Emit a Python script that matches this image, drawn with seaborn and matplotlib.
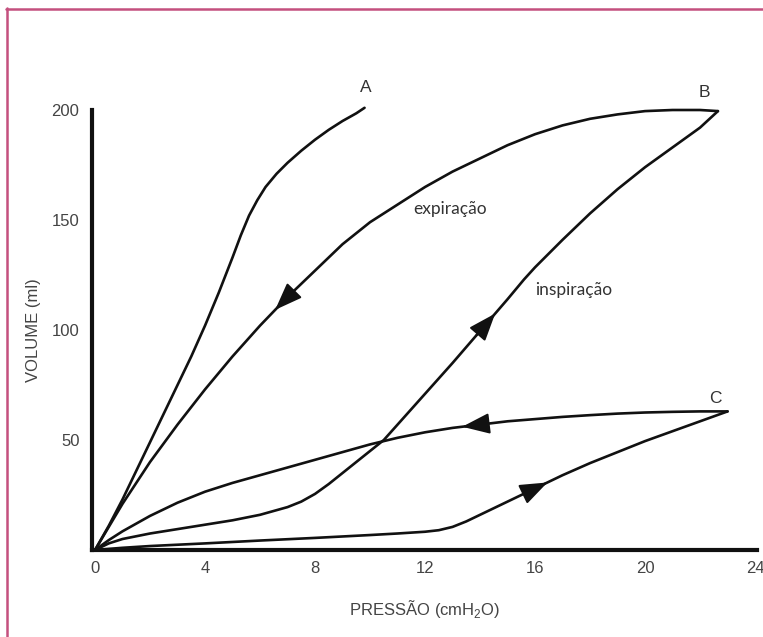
import numpy as np
import pandas as pd
import matplotlib
matplotlib.use("Agg")
import matplotlib.pyplot as plt
from matplotlib.lines import Line2D
import seaborn as sns

# ---------------- data ----------------
a_p = [0, 0.5, 1, 1.5, 2, 2.5, 3, 3.5, 4, 4.5, 5, 5.3, 5.6, 5.9, 6.2, 6.6, 7, 7.5, 8, 8.5, 9, 9.5, 9.8]
a_v = [0, 11, 23, 36, 49, 62, 75, 88, 102, 117, 133, 143, 152, 159, 165, 171, 176, 181.5, 186.5, 191, 195, 198.5, 201]

b_exp_p = [0, 1, 2, 3, 4, 5, 6, 7, 8, 9, 10, 11, 12, 13, 14, 15, 16, 17, 18, 19, 20, 21, 22, 22.65]
b_exp_v = [0, 21, 40, 57, 73, 88, 102, 115, 127, 139, 149, 157, 165, 172, 178, 184, 189, 193, 196, 198, 199.5, 200, 200, 199.5]

b_insp_p = [0, 0.5, 1, 2, 3, 4, 5, 6, 7, 7.5, 8, 8.5, 9, 9.5, 10, 10.5, 11, 12, 13, 14, 15, 15.6, 16, 17, 18, 19, 20, 21, 22, 22.65]
b_insp_v = [0, 3, 5, 7.5, 9.5, 11.5, 13.5, 16, 19.5, 22, 25.5, 30, 35, 40, 45, 50, 57, 71, 85, 99.5, 114, 123, 128.5, 141, 153, 164, 174, 183, 192, 199.5]

c_exp_p = [0, 0.5, 1, 2, 3, 4, 5, 6, 7, 8, 9, 10, 11, 12, 13, 14, 15, 16, 17, 18, 19, 20, 21, 22, 23]
c_exp_v = [0, 4.5, 8.5, 15.5, 21.5, 26.5, 30.5, 34, 37.5, 41, 44.5, 48, 51, 53.5, 55.5, 57, 58.5, 59.5, 60.5, 61.3, 62, 62.5, 62.8, 63, 63]

c_insp_p = [0, 1, 2, 4, 6, 8, 10, 11, 12, 12.5, 13, 13.5, 14, 14.5, 15, 16, 17, 18, 19, 20, 21, 22, 23]
c_insp_v = [0, 1, 1.8, 3, 4.3, 5.5, 6.8, 7.5, 8.3, 9, 10.5, 13, 16, 19, 22, 28, 34, 39.5, 44.5, 49.5, 54, 58.5, 63]

x_ticks = [0, 4, 8, 12, 16, 20, 24]
y_ticks = [50, 100, 150, 200]
y_tick_labels = ["50", "100", "150", "200"]

curve_labels = ["A", "B", "C"]
note_labels = ["expiração", "inspiração"]

# ---------------- style ----------------
sns.set_theme(style="white")
plt.rcParams["font.family"] = ["Liberation Sans", "DejaVu Sans"]
plt.rcParams["mathtext.fontset"] = "custom"
plt.rcParams["mathtext.rm"] = "Liberation Sans"

INK = "#111111"
GRAY = "#444444"

fig = plt.figure(figsize=(7.63, 6.37), dpi=100)
fig.patch.set_facecolor("white")
W, H = 763, 637
ax = fig.add_axes([92 / W, (H - 550) / H, (757 - 92) / W, 440 / H])
ax.set_facecolor("white")

curves = [(a_p, a_v), (b_exp_p, b_exp_v), (b_insp_p, b_insp_v), (c_exp_p, c_exp_v), (c_insp_p, c_insp_v)]
for p, v in curves:
    sns.lineplot(x=p, y=v, sort=False, estimator=None, color=INK, lw=1.9, ax=ax, clip_on=False)

ax.set_xlim(-0.11, 24.07)
ax.set_ylim(0, 200)

# arrowheads placed along curves
def arrow_on(p, v, at, direction):
    p = np.asarray(p, float); v = np.asarray(v, float)
    d = 0.35
    tip_p = at + direction * d
    base_p = at - direction * d
    tip_v = np.interp(tip_p, p, v)
    base_v = np.interp(base_p, p, v)
    ax.annotate("", xy=(tip_p, tip_v), xytext=(base_p, base_v),
                arrowprops=dict(arrowstyle="-|>,head_length=0.85,head_width=0.32",
                                color=INK, lw=1.5, mutation_scale=20, shrinkA=0, shrinkB=0))

arrow_on(b_exp_p, b_exp_v, 6.9, -1)
arrow_on(b_insp_p, b_insp_v, 14.2, +1)
arrow_on(c_exp_p, c_exp_v, 13.7, -1)
arrow_on(c_insp_p, c_insp_v, 16.1, +1)

# spines / ticks
for s in ["top", "right"]:
    ax.spines[s].set_visible(False)
for s in ["left", "bottom"]:
    ax.spines[s].set_visible(True)
    ax.spines[s].set_color(INK)
    ax.spines[s].set_linewidth(3.0)

ax.set_xticks(x_ticks)
ax.set_xticklabels([str(t) for t in x_ticks])
ax.set_yticks(y_ticks)
ax.set_yticklabels(y_tick_labels)
ax.tick_params(axis="x", direction="in", length=9, width=2.0, color=INK, pad=8,
               labelsize=12, labelcolor=GRAY)
ax.tick_params(axis="y", direction="in", length=7, width=2.5, color=INK, pad=9,
               labelsize=12, labelcolor=GRAY)
ax.xaxis.get_major_ticks()[0].tick1line.set_visible(False)
ax.xaxis.get_major_ticks()[-1].tick1line.set_visible(False)
ax.grid(False)

ax.set_xlabel("PRESSÃO (cmH$_2$O)", fontsize=12, color=GRAY, labelpad=16)
ax.set_ylabel("VOLUME (ml)", fontsize=12, color=GRAY, labelpad=8)

# curve letters
letter_pos = [(9.85, 210), (22.15, 208), (22.55, 69)]
for lab, (px, py) in zip(curve_labels, letter_pos):
    ax.text(px, py, lab, fontsize=12.5, color="#333333", ha="center", va="center", clip_on=False)

note_pos = [(12.9, 155), (17.4, 118)]
for lab, (px, py) in zip(note_labels, note_pos):
    ax.text(px, py, lab, fontsize=12.5, color="#333333", ha="center", va="center",
            family=["Lato", "DejaVu Sans"])

# pink frame (top and left edges)
fig.add_artist(Line2D([6 / W, 1.0], [1 - 8.5 / H, 1 - 8.5 / H], transform=fig.transFigure,
                      color="#c4507e", lw=1.8))
fig.add_artist(Line2D([7 / W, 7 / W], [0, 1 - 8 / H], transform=fig.transFigure,
                      color="#c4507e", lw=1.8))

fig.savefig("out.png", dpi=100, facecolor="white")
